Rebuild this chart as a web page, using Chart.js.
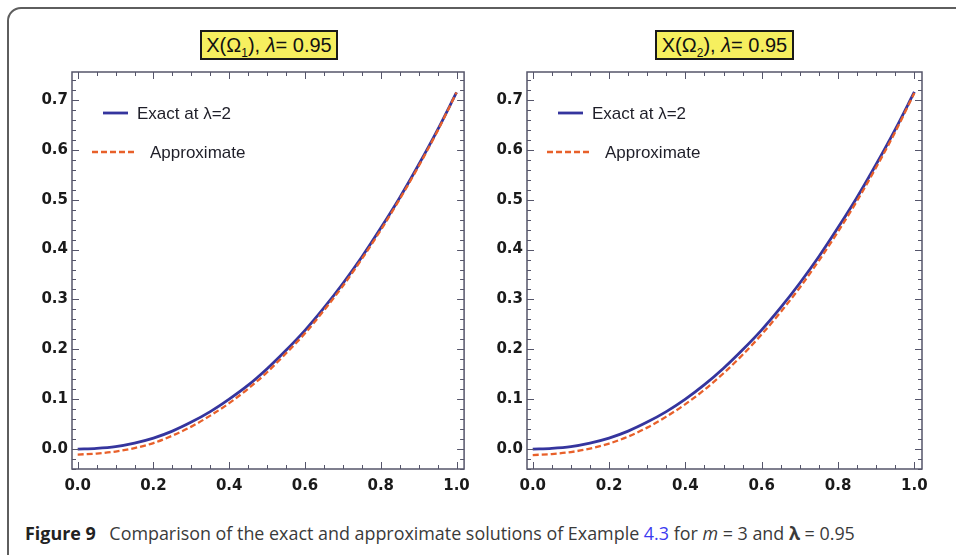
<!DOCTYPE html>
<html>
<head>
<meta charset="utf-8">
<script src="https://cdn.jsdelivr.net/npm/chart.js@4"></script>
<style>
  body { margin: 0; width: 956px; height: 555px; background: #fff; overflow: hidden; position: relative; }
  #frame { position: absolute; left: 7px; top: 7px; width: 1000px; height: 600px;
    border: 2px solid #5e5e5e; border-radius: 14px; }
  canvas { position: absolute; top: 0; }
  .plotTitle { position: absolute; top: 30px; height: 26px; background: #f6ef5f; border: 2px solid #1a1a1a;
    font: 20px "Liberation Sans", Arial, sans-serif; color: #111; text-align: center; line-height: 26px; }
  .plotTitle sub { font-size: 12px; line-height: 0; }
  #caption { position: absolute; left: 25px; top: 521px; font: 17.9px "Open Sans", sans-serif; color: #3a3a3a; white-space: nowrap; }
  #caption b.fig { font-weight: 700; color: #222; margin-right: 9px; }
  #caption .ref { color: #3b3bf0; }
</style>
</head>
<body>
<div id="frame"></div>
<canvas id="chart1" width="478" height="500" style="left:0"></canvas>
<canvas id="chart2" width="478" height="500" style="left:478px"></canvas>
<div class="plotTitle" style="left:200px;width:134px">X(Ω<sub>1</sub>), <i>λ</i>= 0.95</div>
<div class="plotTitle" style="left:655px;width:135px">X(Ω<sub>2</sub>), <i>λ</i>= 0.95</div>
<div id="caption"><b class="fig">Figure 9</b> Comparison of the exact and approximate solutions of Example <span class="ref">4.3</span> for <i>m</i> = 3 and <b>λ</b> = 0.95</div>
<script>
// values
const xValues = [0, 0.05, 0.1, 0.15, 0.2, 0.25, 0.3, 0.35, 0.4, 0.45, 0.5, 0.55, 0.6, 0.65, 0.7, 0.75, 0.8, 0.85, 0.9, 0.95, 1];

const exact1 = [0, 0.0015, 0.005, 0.012, 0.022, 0.036, 0.054, 0.075, 0.100, 0.128, 0.161, 0.198, 0.238, 0.283, 0.332, 0.385, 0.443, 0.504, 0.570, 0.640, 0.715];
const approx1 = [-0.011, -0.009, -0.005, 0.002, 0.012, 0.027, 0.045, 0.067, 0.092, 0.121, 0.154, 0.192, 0.232, 0.278, 0.327, 0.381, 0.439, 0.501, 0.567, 0.638, 0.715];

const exact2 = [0, 0.0015, 0.005, 0.012, 0.022, 0.036, 0.054, 0.075, 0.100, 0.129, 0.162, 0.199, 0.239, 0.284, 0.333, 0.386, 0.444, 0.505, 0.571, 0.641, 0.716];
const approx2 = [-0.012, -0.010, -0.006, 0.001, 0.011, 0.025, 0.043, 0.065, 0.090, 0.119, 0.152, 0.189, 0.230, 0.275, 0.324, 0.378, 0.436, 0.498, 0.565, 0.636, 0.714];

const xTicks = [0, 0.2, 0.4, 0.6, 0.8, 1.0];
const yTicks = [0, 0.1, 0.2, 0.3, 0.4, 0.5, 0.6, 0.7];
const seriesLabels = ['Exact at λ=2', 'Approximate'];

const frameColor = '#55556a';
const tickFont = { family: 'DejaVu Sans', size: 15, weight: 'bold' };

function toPoints(ys) {
  return xValues.map((x, i) => ({ x: x, y: ys[i] }));
}

// mathematica-style frame with inward ticks on all four sides
const framePlugin = {
  id: 'frameTicks',
  afterDatasetsDraw(chart) {
    const { ctx, chartArea: a, scales } = chart;
    const xs = scales.x, ys = scales.y;
    ctx.save();
    ctx.strokeStyle = frameColor;
    ctx.lineWidth = 1;
    for (let i = 0; i <= 20; i++) {
      const v = i * 0.05;
      const px = Math.round(xs.getPixelForValue(v)) + 0.5;
      const len = i % 4 === 0 ? 7 : 4;
      ctx.beginPath();
      ctx.moveTo(px, a.bottom); ctx.lineTo(px, a.bottom - len);
      ctx.moveTo(px, a.top); ctx.lineTo(px, a.top + len);
      ctx.stroke();
    }
    for (let i = -2; i <= 37; i++) {
      const v = i * 0.02;
      if (v < ys.min || v > ys.max) continue;
      const py = Math.round(ys.getPixelForValue(v)) + 0.5;
      const len = i % 5 === 0 ? 7 : 4;
      ctx.beginPath();
      ctx.moveTo(a.left, py); ctx.lineTo(a.left + len, py);
      ctx.moveTo(a.right, py); ctx.lineTo(a.right - len, py);
      ctx.stroke();
    }
    ctx.lineWidth = 1.5;
    ctx.strokeRect(a.left, a.top, a.right - a.left, a.bottom - a.top);
    ctx.restore();
  }
};

// legend drawn inside the plot, top-left
const insideLegend = {
  id: 'insideLegend',
  afterDraw(chart) {
    const { ctx, chartArea: a } = chart;
    const rows = [
      { x0: 31, x1: 56, tx: 65, dy: 41 },
      { x0: 20, x1: 65, tx: 78, dy: 80 }
    ];
    ctx.save();
    chart.data.datasets.forEach((ds, i) => {
      const r = rows[i];
      const y = a.top + r.dy;
      ctx.strokeStyle = ds.borderColor;
      ctx.lineWidth = ds.borderWidth;
      ctx.setLineDash(ds.borderDash || []);
      ctx.beginPath();
      ctx.moveTo(a.left + r.x0, y);
      ctx.lineTo(a.left + r.x1, y);
      ctx.stroke();
      ctx.setLineDash([]);
      ctx.fillStyle = '#1e1e28';
      ctx.font = '17px "Liberation Sans", Arial, sans-serif';
      ctx.textBaseline = 'middle';
      ctx.fillText(ds.label, a.left + r.tx, y + 1);
    });
    ctx.restore();
  }
};

function makeChart(id, exact, approx, yAxisWidth, padRight) {
  const ctx = document.getElementById(id).getContext('2d');
  return new Chart(ctx, {
    type: 'line',
    data: {
      datasets: [
        {
          label: seriesLabels[0],
          data: toPoints(exact),
          borderColor: '#35359e',
          borderWidth: 2.8,
          pointRadius: 0,
          cubicInterpolationMode: 'monotone',
          order: 1,
        },
        {
          label: seriesLabels[1],
          data: toPoints(approx),
          borderColor: '#e8602a',
          borderWidth: 2.3,
          borderDash: [6, 3],
          pointRadius: 0,
          cubicInterpolationMode: 'monotone',
          order: 0,
        },
      ],
    },
    options: {
      responsive: false,
      animation: false,
      layout: { padding: { top: 72, right: padRight, bottom: 0, left: 0 } },
      plugins: { legend: { display: false }, tooltip: { enabled: false } },
      scales: {
        x: {
          type: 'linear',
          min: -0.015,
          max: 1.02,
          afterFit: (s) => { s.height = 31; },
          afterBuildTicks: (s) => { s.ticks = xTicks.map((v) => ({ value: v })); },
          grid: { display: false, drawTicks: false },
          border: { display: false },
          ticks: { padding: 8, color: '#1a1a1a', font: tickFont, maxRotation: 0, callback: (v) => v.toFixed(1) },
        },
        y: {
          min: -0.04,
          max: 0.756,
          afterFit: (s) => { s.width = yAxisWidth; },
          afterBuildTicks: (s) => { s.ticks = yTicks.map((v) => ({ value: v })); },
          grid: { display: false, drawTicks: false },
          border: { display: false },
          ticks: { padding: 4, color: '#1a1a1a', font: tickFont, callback: (v) => v.toFixed(1) },
        },
      },
    },
    plugins: [framePlugin, insideLegend],
  });
}

makeChart('chart1', exact1, approx1, 72, 10.5);
makeChart('chart2', exact2, approx2, 49, 34);
</script>
</body>
</html>
